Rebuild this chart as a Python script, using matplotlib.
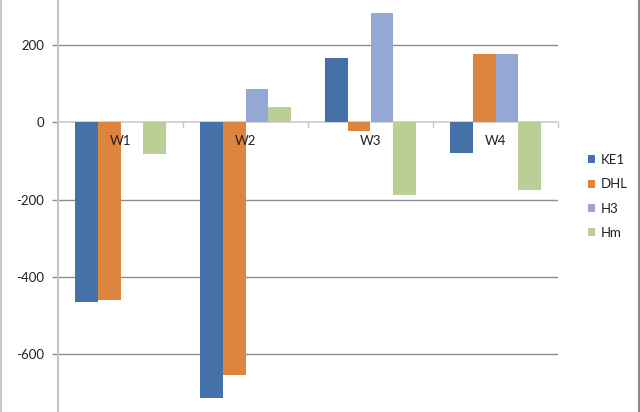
import matplotlib
matplotlib.use("Agg")
import matplotlib.pyplot as plt
import numpy as np
from matplotlib.patches import Patch
from matplotlib.lines import Line2D

categories = ["W1", "W2", "W3", "W4"]
series_names = ["KE1", "DHL", "H3", "Hm"]
ke1 = [-465, -713, 166, -80]
dhl = [-460, -655, -22, 176]
h3 = [0, 85, 284, 176]
hm = [-81, 40, -188, -174]
yticks = [200, 0, -200, -400, -600]
colors = ["#4471A7", "#DD843E", "#93A9D3", "#B9CF96"]

plt.rcParams['font.family'] = ['Lato', 'DejaVu Sans']
FS = 9.5
TXT = "#202020"

fig = plt.figure(figsize=(6.4, 4.12), dpi=100)
ax = fig.add_axes([58/640, 0, 500/640, 1])

values = [ke1, dhl, h3, hm]
n = len(series_names)
width = 1.0 / (n + 1.5)
x = np.arange(len(categories))
for i, (name, vals, c) in enumerate(zip(series_names, values, colors)):
    offs = (i - (n - 1) / 2) * width
    ax.bar(x + offs, vals, width=width, color=c, label=name, zorder=2)

ax.set_xlim(-0.5, len(categories) - 0.5)
ax.set_ylim(-750, 316.6)

for yt in yticks:
    if yt == 0:
        ax.axhline(0, color="#D0D0D0", lw=1.3, zorder=1)
    else:
        ax.axhline(yt, color="#8C8C8C", lw=1.0, zorder=1)

ax.set_yticks(yticks)
ax.set_yticklabels([str(v) for v in yticks])
ax.tick_params(axis='y', length=4.3, width=1.0, color="#8C8C8C", pad=5.8,
               labelsize=FS, labelcolor=TXT)

# category boundary ticks at zero line
ax.set_xticks([])
for b in np.arange(-0.5, len(categories) + 0.5, 1.0)[1:]:
    ax.plot([b, b], [0, -12], color="#C8C8C8", lw=1.0, zorder=1, clip_on=False)
for xi, cat in zip(x, categories):
    ax.text(xi, -19/0.386, cat, ha='center', va='center', fontsize=FS,
            color=TXT, zorder=5)

for s in ['top', 'right', 'bottom']:
    ax.spines[s].set_visible(False)
ax.spines['left'].set_color("#C4C4C4")
ax.spines['left'].set_linewidth(1.5)

# chart area borders
fig.add_artist(Line2D([1.2/640, 1.2/640], [0, 1], color="#C8C8C8", lw=1.5,
                      transform=fig.transFigure))
fig.add_artist(Line2D([638.5/640, 638.5/640], [0, 1], color="#8A8A8A", lw=1.5,
                      transform=fig.transFigure))

handles = [Patch(facecolor=c, edgecolor='none') for c in colors]
fig.legend(handles, series_names, loc='upper left',
           bbox_to_anchor=(588/640, 1 - 154/412), frameon=False,
           fontsize=FS, labelcolor=TXT, handlelength=0.55, handleheight=0.55,
           handletextpad=0.4, labelspacing=0.93, borderpad=0, borderaxespad=0)

fig.savefig("out.png", dpi=100)
